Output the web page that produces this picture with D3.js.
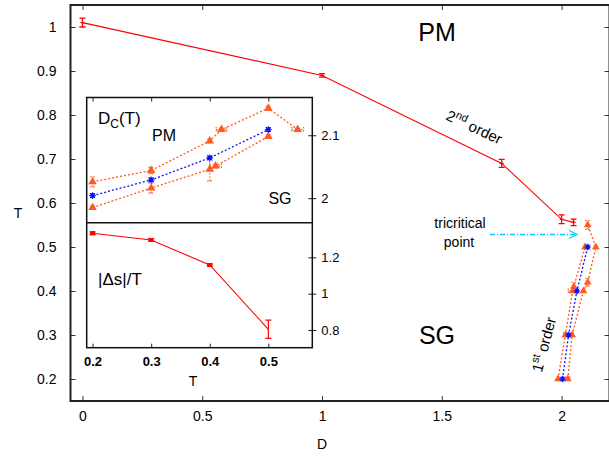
<!DOCTYPE html>
<html><head><meta charset="utf-8">
<script src="https://cdn.jsdelivr.net/npm/d3@7"></script>
<style>
body{margin:0;background:#fff;}
text{font-family:"Liberation Sans",Arial,Helvetica,sans-serif;fill:#000;}
</style></head>
<body>
<svg id="c" width="609" height="456"></svg>
<script>
// ---- data ----
const mainD = [0, 1, 1.75, 2.0, 2.05];
const mainT = [1.01, 0.89, 0.69, 0.563, 0.556];
const mainErr = [0.01, 0.004, 0.009, 0.01, 0.0075];

const blueT = [0.2, 0.3, 0.4, 0.5];
const blueD = [2.004, 2.029, 2.064, 2.109];
const blueErrD = [0.003, 0.003, 0.003, 0.003];

const upT = [0.2, 0.3, 0.4, 0.42, 0.5, 0.55];
const upD = [2.026, 2.044, 2.091, 2.109, 2.143, 2.109];
const upErrD = [0.008, 0.005, 0.003, 0.002, 0.003, 0.002];
const upErrT = [0, 0, 0, 0.009, 0, 0.01];

const lowT = [0.2, 0.3, 0.4, 0.41, 0.5];
const lowD = [1.985, 2.016, 2.046, 2.051, 2.098];
const lowErrD = [0.003, 0.008, 0.0185, 0.003, 0.003];
const lowErrT = [0, 0, 0, 0.01, 0];

const dsT = [0.2, 0.3, 0.4, 0.5];
const dsVal = [1.333, 1.296, 1.158, 0.804];
const dsErr = [0.008, 0.008, 0.006, 0.05];

const xTicks = [0, 0.5, 1, 1.5, 2];
const yTicks = [0.2, 0.3, 0.4, 0.5, 0.6, 0.7, 0.8, 0.9, 1];
const inTTicks = [0.2, 0.3, 0.4, 0.5];
const inDTicks = [2, 2.1];
const inSTicks = [0.8, 1, 1.2];

const RED = "#ff0000", ORANGE = "#ff5a1f", BLUE = "#1010ff", CYAN = "#00ccff";

const svg = d3.select("#c");

// ---- main scales ----
const L = 70.5, R = 609.5, T0 = 5, B = 401;
const x = d3.scaleLinear().domain([-0.05, 2.2]).range([L, R]);
const y = d3.scaleLinear().domain([0.15, 1.05]).range([B, T0]);

// axes
const gx = svg.append("g").attr("transform", `translate(0,${B})`)
  .call(d3.axisBottom(x).tickValues(xTicks).tickSize(-5).tickPadding(10).tickFormat(d3.format("")));
const gxt = svg.append("g").attr("transform", `translate(0,${T0})`)
  .call(d3.axisTop(x).tickValues(xTicks).tickSize(-5).tickFormat(""));
const gy = svg.append("g").attr("transform", `translate(${L},0)`)
  .call(d3.axisLeft(y).tickValues(yTicks).tickSize(-5).tickPadding(14).tickFormat(d3.format("")));
const gyr = svg.append("g").attr("transform", `translate(${R},0)`)
  .call(d3.axisRight(y).tickValues(yTicks).tickSize(-5).tickFormat(""));
[gx, gxt, gy, gyr].forEach(g => {
  g.select(".domain").remove();
  g.selectAll("line").attr("stroke", "#333").attr("stroke-width", 1);
  g.selectAll("text").attr("font-size", 14).attr("font-family", "Liberation Sans, Arial, sans-serif").attr("fill", "#111");
});
svg.append("rect").attr("x", L).attr("y", T0).attr("width", R - L).attr("height", B - T0)
  .attr("fill", "none").attr("stroke", "#222").attr("stroke-width", 2);

svg.append("text").attr("x", 18).attr("y", 218).attr("text-anchor", "middle").attr("font-size", 14).text("T");
svg.append("text").attr("x", 322).attr("y", 449).attr("text-anchor", "middle").attr("font-size", 14).text("D");

// ---- main red line ----
const mainPts = mainD.map((d, i) => ({x: d, y: mainT[i], e: mainErr[i]}));
svg.append("path").datum(mainPts)
  .attr("d", d3.line().x(d => x(d.x)).y(d => y(d.y)))
  .attr("fill", "none").attr("stroke", RED).attr("stroke-width", 1.1);
mainPts.forEach(p => {
  const cx = x(p.x), y1 = y(p.y + p.e), y2 = y(p.y - p.e);
  svg.append("path").attr("d", `M${cx},${y1}V${y2}M${cx-3},${y1}H${cx+3}M${cx-3},${y2}H${cx+3}M${cx-2},${y(p.y)}H${cx+2}`)
    .attr("stroke", RED).attr("stroke-width", 1.3).attr("fill", "none");
});

// ---- helpers ----
const tri = d3.symbol().type(d3.symbolTriangle);
function drawSeries(g, pts, sx, sy, color, dash, marker, size) {
  g.append("path").datum(pts)
    .attr("d", d3.line().x(d => sx(d.x)).y(d => sy(d.y)))
    .attr("fill", "none").attr("stroke", color).attr("stroke-width", 1.3).attr("stroke-dasharray", dash);
  pts.forEach(p => {
    const cx = sx(p.x), cy = sy(p.y);
    if (p.ex) {
      const a = sx(p.x - p.ex), b = sx(p.x + p.ex);
      g.append("path").attr("d", `M${a},${cy}H${b}M${a},${cy-2.5}V${cy+2.5}M${b},${cy-2.5}V${cy+2.5}`)
        .attr("stroke", color).attr("stroke-width", 1.1).attr("fill", "none").attr("stroke-dasharray", p.dashErr ? "1.5,1.5" : null);
    }
    if (p.ey) {
      const a = sy(p.y - p.ey), b = sy(p.y + p.ey);
      g.append("path").attr("d", `M${cx},${a}V${b}M${cx-2.5},${a}H${cx+2.5}M${cx-2.5},${b}H${cx+2.5}`)
        .attr("stroke", color).attr("stroke-width", 1.1).attr("fill", "none").attr("stroke-dasharray", p.dashErr ? "1.5,1.5" : null);
    }
    if (marker === "tri") {
      g.append("path").attr("d", tri.size(size)()).attr("transform", `translate(${cx},${cy})`).attr("fill", color);
    } else {
      const s = Math.sqrt(size);
      g.append("rect").attr("x", cx - s/2).attr("y", cy - s/2).attr("width", s).attr("height", s).attr("fill", color);
      g.append("path").attr("d", `M${cx-s*0.8},${cy}H${cx+s*0.8}M${cx},${cy-s*0.8}V${cy+s*0.8}M${cx-s*0.6},${cy-s*0.6}L${cx+s*0.6},${cy+s*0.6}M${cx-s*0.6},${cy+s*0.6}L${cx+s*0.6},${cy-s*0.6}`)
        .attr("stroke", color).attr("stroke-width", 1);
    }
  });
}

// ---- first-order lines on main plot (x = D, y = T) ----
const gMain = svg.append("g");
drawSeries(gMain, upD.map((d, i) => ({x: d, y: upT[i], ex: upErrD[i], ey: upErrT[i], dashErr: true})), x, y, ORANGE, "2,2", "tri", 26);
drawSeries(gMain, lowD.map((d, i) => ({x: d, y: lowT[i], ex: lowErrD[i], ey: lowErrT[i], dashErr: true})), x, y, ORANGE, "2,2", "tri", 26);
drawSeries(gMain, blueD.map((d, i) => ({x: d, y: blueT[i], ex: blueErrD[i]})), x, y, BLUE, "2,2", "sq", 16);

// labels main
svg.append("text").attr("x", 437).attr("y", 41).attr("text-anchor", "middle").attr("font-size", 25).text("PM");
svg.append("text").attr("x", 437).attr("y", 344).attr("text-anchor", "middle").attr("font-size", 25).text("SG");

const t2 = svg.append("text").attr("font-size", 15).attr("text-anchor", "middle")
  .attr("transform", "translate(472,132) rotate(25)");
t2.append("tspan").text("2");
t2.append("tspan").attr("font-size", 11).attr("dy", -6).text("nd");
t2.append("tspan").attr("dy", 6).text(" order");

const t1 = svg.append("text").attr("font-size", 15).attr("text-anchor", "middle")
  .attr("transform", "translate(549,346) rotate(-75)");
t1.append("tspan").text("1");
t1.append("tspan").attr("font-size", 11).attr("dy", -6).text("st");
t1.append("tspan").attr("dy", 6).text(" order");

svg.append("text").attr("x", 460).attr("y", 228).attr("text-anchor", "middle").attr("font-size", 14).text("tricritical");
svg.append("text").attr("x", 459).attr("y", 247).attr("text-anchor", "middle").attr("font-size", 14).text("point");
svg.append("path").attr("d", "M490,234.5H577").attr("stroke", CYAN).attr("stroke-width", 1.3).attr("stroke-dasharray", "5,2,1,2").attr("fill", "none");
svg.append("path").attr("d", "M569,230.5L577,234.5L569,238.5").attr("stroke", CYAN).attr("stroke-width", 1.2).attr("fill", "none");

// ---- inset ----
const iL = 86.7, iR = 312.3, iT = 97.5, iM = 222.7, iB = 347.7;
svg.append("rect").attr("x", iL).attr("y", iT).attr("width", iR - iL).attr("height", iB - iT).attr("fill", "#fff");
const ix = d3.scaleLinear().domain([0.19, 0.575]).range([iL, iR]);
const iyU = d3.scaleLinear().domain([1.961, 2.16]).range([iM, iT]);
const iyL = d3.scaleLinear().domain([0.7025, 1.391]).range([iB, iM]);

const gIn = svg.append("g");
drawSeries(gIn, upT.map((t, i) => ({x: t, y: upD[i], ey: upErrD[i], ex: upErrT[i], dashErr: true})), ix, iyU, ORANGE, "2,2", "tri", 32);
drawSeries(gIn, lowT.map((t, i) => ({x: t, y: lowD[i], ey: lowErrD[i], ex: lowErrT[i], dashErr: true})), ix, iyU, ORANGE, "2,2", "tri", 32);
drawSeries(gIn, blueT.map((t, i) => ({x: t, y: blueD[i], ey: blueErrD[i]})), ix, iyU, BLUE, "2,2", "sq", 18);

// entropy panel
const dsPts = dsT.map((t, i) => ({x: t, y: dsVal[i], e: dsErr[i]}));
svg.append("path").datum(dsPts).attr("d", d3.line().x(d => ix(d.x)).y(d => iyL(d.y)))
  .attr("fill", "none").attr("stroke", RED).attr("stroke-width", 1.1);
dsPts.forEach(p => {
  const cx = ix(p.x), a = iyL(p.y - p.e), b = iyL(p.y + p.e);
  svg.append("path").attr("d", `M${cx},${a}V${b}M${cx-3},${a}H${cx+3}M${cx-3},${b}H${cx+3}`)
    .attr("stroke", RED).attr("stroke-width", 1.2).attr("fill", "none");
  svg.append("rect").attr("x", cx - 2.5).attr("y", iyL(p.y) - 2).attr("width", 5).attr("height", 4).attr("fill", p.e > 0.02 ? "none" : RED);
});

// inset axes
const ia1 = svg.append("g").attr("transform", `translate(0,${iB})`)
  .call(d3.axisBottom(ix).tickValues(inTTicks).tickSize(-4).tickPadding(9).tickFormat(d3.format(".1f")));
const ia2 = svg.append("g").attr("transform", `translate(0,${iT})`)
  .call(d3.axisTop(ix).tickValues(inTTicks).tickSize(-4).tickFormat(""));
const ia3 = svg.append("g").attr("transform", `translate(${iR},0)`)
  .call(d3.axisRight(iyU).tickValues(inDTicks).tickSize(4).tickPadding(5).tickFormat(d3.format("")));
const ia4 = svg.append("g").attr("transform", `translate(${iR},0)`)
  .call(d3.axisRight(iyL).tickValues(inSTicks).tickSize(4).tickPadding(5).tickFormat(d3.format("")));
const ia5 = svg.append("g").attr("transform", `translate(${iR},0)`)
  .call(d3.axisLeft(iyU).tickValues(inDTicks).tickSize(4).tickFormat(""));
const ia6 = svg.append("g").attr("transform", `translate(${iR},0)`)
  .call(d3.axisLeft(iyL).tickValues(inSTicks).tickSize(4).tickFormat(""));
[ia1, ia2, ia3, ia4, ia5, ia6].forEach(g => {
  g.select(".domain").remove();
  g.selectAll("line").attr("stroke", "#222").attr("stroke-width", 1);
  g.selectAll("text").attr("font-size", 13).attr("font-family", "Liberation Sans, Arial, sans-serif").attr("fill", "#111");
});
ia1.selectAll("text").attr("font-weight", "bold");
svg.append("rect").attr("x", iL).attr("y", iT).attr("width", iR - iL).attr("height", iB - iT)
  .attr("fill", "none").attr("stroke", "#111").attr("stroke-width", 1.5);
svg.append("line").attr("x1", iL).attr("x2", iR).attr("y1", iM).attr("y2", iM).attr("stroke", "#111").attr("stroke-width", 1.5);

// inset labels
const dc = svg.append("text").attr("x", 98).attr("y", 124).attr("font-size", 17);
dc.append("tspan").text("D");
dc.append("tspan").attr("font-size", 12).attr("dy", 4).text("C");
dc.append("tspan").attr("dy", -4).text("(T)");
svg.append("text").attr("x", 164).attr("y", 141).attr("text-anchor", "middle").attr("font-size", 16).text("PM");
svg.append("text").attr("x", 280).attr("y", 204).attr("text-anchor", "middle").attr("font-size", 16).text("SG");
svg.append("text").attr("x", 98).attr("y", 285).attr("font-size", 17).text("|Δs|/T");
svg.append("text").attr("x", 193).attr("y", 386).attr("text-anchor", "middle").attr("font-size", 14).text("T");
</script>
</body></html>
